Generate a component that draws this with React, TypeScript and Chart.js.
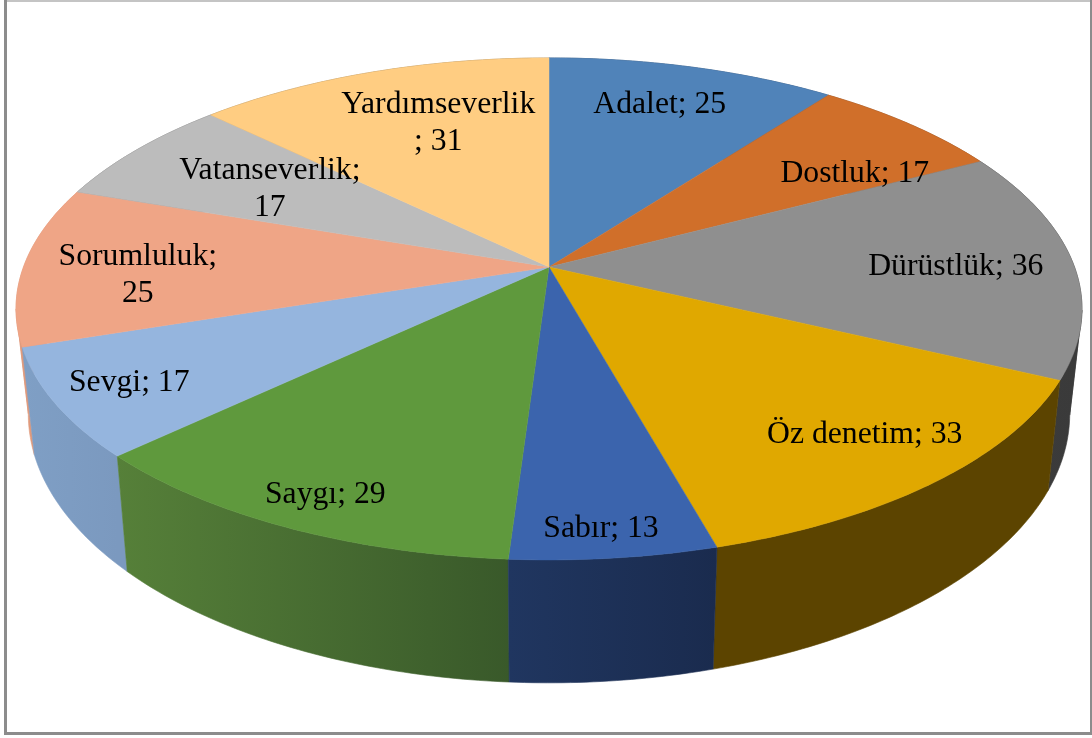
import React, { useEffect, useRef } from "react";
import { Chart, registerables } from "chart.js";

Chart.register(...registerables);

const categories = ["Adalet", "Dostluk", "Dürüstlük", "Öz denetim", "Sabır", "Saygı", "Sevgi", "Sorumluluk", "Vatanseverlik", "Yardımseverlik"];
const values = [25, 17, 36, 33, 13, 29, 17, 25, 17, 31];
const topColors = ["#5083b9", "#d06f2a", "#8f8f8f", "#e0a800", "#3b64ad", "#5f993d", "#95b5de", "#efa586", "#bcbcbc", "#ffcd82"];
const wallLeft = ["#2f4f72", "#7d431a", "#3c3c3c", "#5c4400", "#203660", "#568039", "#7f9fc5", "#e09a7c", "#707070", "#9a7c4e"];
const wallRight = ["#2f4f72", "#7d431a", "#3a3a3a", "#5c4400", "#1a2b4e", "#39592a", "#7b99bf", "#e09a7c", "#707070", "#9a7c4e"];
const labelLines = [["Adalet; 25"], ["Dostluk; 17"], ["Dürüstlük; 36"], ["Öz denetim; 33"], ["Sabır; 13"], ["Saygı; 29"], ["Sevgi; 17"], ["Sorumluluk;", "25"], ["Vatanseverlik;", "17"], ["Yardımseverlik", "; 31"]];
const labelRadius = [0.798, 0.752, 0.776, 0.813, 0.905, 0.88, 0.856, 0.78, 0.663, 0.71];
const labelTurnDeg = [-1.2, 6.3, 0.1, -1.6, 0.6, -0.4, 0.8, -1.9, 0.5, 3.7];

// Perspective of the tilted pie
const CX = 549, CY = 267, A = 525.5, B = 244, K = 0.167;
const project = (u: number, v: number) => {
  const w = 1 + K * v;
  return { x: CX + (A * u) / w, y: CY - (B * v) / w };
};
const lower = (p: { x: number; y: number }) => ({ x: CX + 0.977 * (p.x - CX), y: 1.072 * p.y + 82.6 });

const rimPoints = (arc: any) => {
  const steps = Math.ceil((arc.endAngle - arc.startAngle) * 80);
  const pts: { x: number; y: number }[] = [];
  for (let s = 0; s <= steps; s++) {
    const a = arc.startAngle + ((arc.endAngle - arc.startAngle) * s) / steps;
    pts.push(project(Math.cos(a), -Math.sin(a)));
  }
  return pts;
};

// A rim that passes the far left or right of the pie folds back on itself: cut it there.
const splitAtTurns = (pts: { x: number; y: number }[]) => {
  const parts: { x: number; y: number }[][] = [];
  let current = [pts[0]];
  for (let n = 1; n < pts.length; n++) {
    current.push(pts[n]);
    if (n < pts.length - 1 && (pts[n].x - pts[n - 1].x) * (pts[n + 1].x - pts[n].x) < 0) {
      parts.push(current);
      current = [pts[n]];
    }
  }
  parts.push(current);
  return parts;
};

const pie3d = {
  id: "pie3d",
  beforeDraw(chart: any) {
    const { ctx, width, height } = chart;
    ctx.save();
    ctx.fillStyle = "#ffffff";
    ctx.fillRect(0, 0, width, height);
    ctx.fillStyle = "#c4c4c4";
    ctx.fillRect(4, 0, 1087, 2);
    ctx.fillStyle = "#8c8c8c";
    ctx.fillRect(4, 0, 3, 735);
    ctx.fillRect(4, 732, 1087, 3);
    ctx.fillRect(1090, 0, 2, 735);
    ctx.restore();
  },
  beforeDatasetDraw(chart: any) {
    const { ctx } = chart;
    const arcs = chart.getDatasetMeta(0).data;
    ctx.save();
    const walls = arcs.map((arc: any, i: number) => {
      const pts = rimPoints(arc);
      const depth = pts.reduce((sum, p) => sum + p.y, 0) / pts.length;
      return { i, pts, depth };
    });
    walls.sort((a: any, b: any) => a.depth - b.depth);
    walls.forEach(({ i, pts }: any) => {
      const xs = pts.map((p: any) => p.x);
      const grad = ctx.createLinearGradient(Math.min(...xs), 0, Math.max(...xs) + 1, 0);
      grad.addColorStop(0, wallLeft[i]);
      grad.addColorStop(1, wallRight[i]);
      splitAtTurns(pts).forEach((part) => {
        ctx.beginPath();
        part.forEach((p: any, n: number) => (n ? ctx.lineTo(p.x, p.y) : ctx.moveTo(p.x, p.y)));
        [...part].reverse().forEach((p: any) => {
          const b = lower(p);
          ctx.lineTo(b.x, b.y);
        });
        ctx.closePath();
        ctx.fillStyle = grad;
        ctx.strokeStyle = grad;
        ctx.lineWidth = 0.6;
        ctx.fill();
        ctx.stroke();
      });
    });
    arcs.forEach((arc: any, i: number) => {
      const c = project(0, 0);
      ctx.beginPath();
      ctx.moveTo(c.x, c.y);
      rimPoints(arc).forEach((p) => ctx.lineTo(p.x, p.y));
      ctx.closePath();
      ctx.fillStyle = topColors[i];
      ctx.strokeStyle = topColors[i];
      ctx.lineWidth = 0.5;
      ctx.fill();
      ctx.stroke();
    });
    ctx.restore();
    return false;
  },
  afterDatasetsDraw(chart: any) {
    const { ctx } = chart;
    const arcs = chart.getDatasetMeta(0).data;
    ctx.save();
    ctx.font = '31.7px "Liberation Serif"';
    ctx.fillStyle = "#000000";
    ctx.textAlign = "center";
    ctx.textBaseline = "middle";
    arcs.forEach((arc: any, i: number) => {
      const a = (arc.startAngle + arc.endAngle) / 2 + (labelTurnDeg[i] * Math.PI) / 180;
      const r = labelRadius[i];
      const p = project(r * Math.cos(a), -r * Math.sin(a));
      const lines = labelLines[i];
      const lh = 37;
      lines.forEach((line, n) => {
        ctx.fillText(line, p.x, p.y + 3 + (n - (lines.length - 1) / 2) * lh);
      });
    });
    ctx.restore();
  },
};

export default function App() {
  const ref = useRef<HTMLCanvasElement>(null);
  useEffect(() => {
    const chart = new Chart(ref.current!, {
      type: "pie",
      data: {
        labels: categories,
        datasets: [{ data: values, backgroundColor: topColors, borderWidth: 0 }],
      },
      options: {
        responsive: false,
        animation: false,
        plugins: { legend: { display: false }, tooltip: { enabled: false } },
      },
      plugins: [pie3d],
    } as any);
    return () => chart.destroy();
  }, []);
  return <canvas ref={ref} width={1092} height={738} style={{ position: "fixed", left: 0, top: 0 }} />;
}
